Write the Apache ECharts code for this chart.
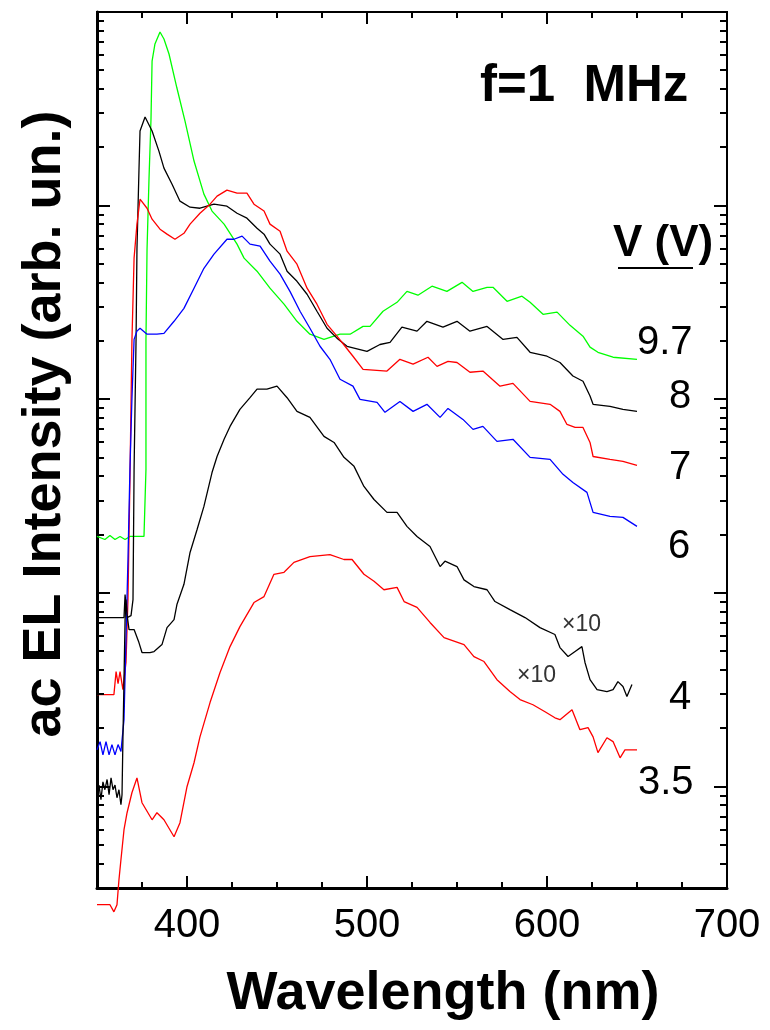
<!DOCTYPE html>
<html><head><meta charset="utf-8">
<script src="https://cdn.jsdelivr.net/npm/echarts@6/dist/echarts.min.js"></script>
<style>html,body{margin:0;padding:0;background:#fff}#c{width:770px;height:1030px}</style>
</head><body><div id="c"></div>
<script>
// ---- data: [wavelength (nm), ac EL intensity (arb. un.)] ----
const v97 = [[350,19.6],[354.4,18.9],[357.2,19.8],[360,18.9],[362.8,19.6],[365.6,18.9],[368.3,19.6],[374.4,19.6],[376.1,19.6],[377.2,43.5],[377.2,204],[377.8,596],[378.9,1387],[380,2800],[380.6,5580],[382.2,6840],[385,7880],[387.2,7250],[390,6070],[394.4,4050],[398.9,2730],[403.9,1700],[409.4,1147],[413.9,938],[420.6,803],[427.8,633],[431.7,536],[438.9,459],[446.1,375],[453.9,310],[461.1,253],[468.3,217],[476.1,204],[485,217],[490.6,217],[497.8,238],[501.7,238],[508.9,285],[516.7,317],[522.2,361],[528.3,345],[536.1,384],[544.4,361],[552.8,402],[558.9,361],[566.7,379],[570,379],[577.8,321],[586.1,341],[590.6,317],[597.8,275],[605.6,282],[612.8,241],[620,212],[623.9,186],[628.3,175],[636.7,165],[650,161]];
const v8 = [[350,7.47],[357.2,7.47],[365,7.47],[365.6,9.82],[366.7,7.47],[368.9,7.65],[370,9.25],[370.6,43.5],[371.7,204],[372.2,596],[373.3,1507],[373.9,2430],[376.7,2870],[380.6,2430],[384.4,1913],[387.2,1563],[391.7,1291],[396.1,1055],[401.7,982],[407.2,970],[415,1018],[422.2,994],[427.8,914],[433.3,862],[438.9,765],[442.8,713],[446.1,633],[451.7,562],[455.6,459],[461.1,407],[466.7,349],[472.2,285],[477.8,233],[483.3,207],[488.9,188],[500,177],[507.2,192],[512.8,197],[519.4,236],[527.8,225],[533.3,253],[542.2,236],[550,253],[557.2,225],[566.7,238],[575.6,204],[583.3,209],[590.6,175],[600,167],[607.2,155],[614.4,132],[620,124],[623.9,104],[625.6,94.3],[635,92.1],[642.2,88.7],[650,86.7]];
const v7 = [[350,2.99],[359.4,2.99],[360.6,3.93],[361.7,3.41],[362.8,3.93],[364.4,3.17],[365,3.57],[366.1,4.38],[367.2,9.25],[368.3,38.6],[369.4,199],[370.6,536],[372.2,803],[373.9,1080],[377.8,970],[380.6,852],[385,756],[388.9,713],[393.3,671],[398.3,720],[401.7,803],[407.2,914],[412.8,1018],[416.7,1120],[422.2,1203],[427.8,1160],[433.3,1160],[437.2,1018],[442.8,938],[446.1,803],[451.7,738],[455.6,582],[461.1,499],[466.7,375],[472.2,310],[477.8,244],[483.3,212],[487.8,188],[492.2,167],[497.8,143],[511.1,140],[518.3,161],[525.6,152],[533.9,165],[538.9,148],[545,157],[550,155],[557.2,138],[564.4,140],[573.9,117],[581.1,121],[590.6,97.6],[601.7,94.3],[607.2,86.7],[611.1,74.2],[615.6,71.6],[620,71.6],[623.9,59.9],[625.6,50.7],[635,49.0],[642.2,47.8],[650,45.6]];
const v6 = [[350,1.55],[351.7,1.71],[353.3,1.46],[355,1.71],[356.7,1.46],[358.3,1.65],[360,1.46],[361.7,1.65],[363.3,1.52],[363.9,1.55],[365,2.22],[366.1,5.75],[367.2,14.9],[368.3,43.5],[369.4,100],[370.6,204],[372.2,225],[373.9,233],[377.8,217],[383.3,217],[387.2,219],[392.8,253],[398.3,295],[403.9,375],[409.4,475],[415,562],[422.2,671],[426.1,671],[430.6,696],[435,633],[440.6,618],[446.1,517],[451.7,443],[457.2,361],[462.8,285],[468.3,233],[473.9,188],[479.4,161],[485,127],[492.2,117],[496.1,100],[505.6,96.5],[510,85.7],[518.3,97.6],[525.6,86.7],[533.3,94.3],[540.6,80.7],[545,89.8],[553.3,78.8],[558.9,70.0],[564.4,72.5],[572.2,60.7],[581.1,62.2],[590.6,50.2],[601.7,49.0],[608.9,41.0],[614.4,37.2],[622.2,33.1],[625.6,26.1],[635,24.9],[642.2,24.6],[650,22.1]];
const v4x10 = [[350,0.909],[351.1,1.02],[352.2,0.857],[353.3,1.06],[354.4,0.965],[355.6,1.09],[356.7,0.909],[357.8,1.11],[358.9,0.965],[360,1.02],[361.1,0.877],[362.2,0.965],[363.3,0.807],[363.9,0.909],[364.4,1.75],[365,3.57],[365.6,7.29],[366.1,9.25],[366.7,7.74],[367.8,6.48],[370.6,6.48],[373.3,5.55],[375,4.93],[379.4,4.93],[381.7,4.99],[386.1,5.42],[387.2,5.55],[388.9,6.63],[392.8,7.29],[394.4,8.72],[398.3,11.1],[401.7,16.2],[405.6,21.3],[409.4,28.0],[413.9,41.9],[416.7,50.7],[420.6,62.2],[423.9,72.5],[429.4,88.7],[435,102],[438.9,113],[444.4,113],[450,117],[455.6,102],[461.1,86.7],[468.3,80.7],[476.1,64.4],[481.7,59.9],[487.2,50.2],[492.8,45.1],[498.3,35.5],[503.9,30.4],[511.1,26.1],[516.7,26.1],[522.2,22.1],[527.8,19.6],[535,17.4],[540.6,13.7],[543.3,14.6],[550,13.7],[553.9,11.7],[559.4,10.8],[566.7,10.4],[571.1,9.04],[579.4,8.21],[587.8,7.47],[596.1,6.63],[604.4,6.11],[607.2,5.23],[611.7,4.70],[615.6,4.99],[619.4,5.29],[621.1,4.38],[623.9,3.57],[627.8,3.17],[633.3,3.10],[636.7,3.17],[639.4,3.49],[642.2,3.29],[644.4,2.92],[647.2,3.37]];
const v35x10 = [[350,0.246],[354.4,0.246],[357.2,0.246],[359.4,0.226],[361.1,0.246],[362.2,0.331],[363.3,0.42],[365,0.6],[366.7,0.734],[369.4,0.931],[372.2,1.11],[375,0.827],[380.6,0.675],[383.3,0.734],[387.2,0.675],[392.8,0.552],[396.1,0.652],[400,1.0],[403.9,1.33],[407.2,1.81],[412.8,2.72],[418.3,3.88],[423.9,5.29],[429.4,6.71],[437.2,8.93],[442.8,9.59],[448.3,12.5],[453.9,12.8],[459.4,14.4],[468.3,15.4],[479.4,15.8],[487.2,14.9],[491.7,14.9],[498.3,12.5],[503.9,11.5],[509.4,10.4],[516.7,10.7],[520.6,9.04],[527.8,8.43],[535,7.05],[542.8,5.89],[553.9,5.42],[559.4,4.70],[565,4.43],[572.2,3.57],[579.4,3.10],[585,2.82],[592.2,2.65],[598.9,2.44],[604.4,2.27],[607.2,2.22],[613.9,2.50],[618.3,1.97],[622.8,2.02],[625.6,1.81],[628.3,1.50],[633.3,1.79],[636.7,1.71],[640.6,1.41],[643.3,1.55],[650,1.55]];

// ---- ticks and labels ----
const xTickLabels = [400, 500, 600, 700];
const xMajorTicks = [400, 500, 600, 700];
const xMinorTicks = [375, 425, 450, 475, 525, 550, 575, 625, 650, 675];
const yMajorTicks = [1, 10, 100, 1000, 10000];
const yMinorTicks = [0.4,0.5,0.6,0.7,0.8,0.9, 2,3,4,5,6,7,8,9, 20,30,40,50,60,70,80,90, 200,300,400,500,600,700,800,900, 2000,3000,4000,5000,6000,7000,8000,9000];
const voltageLabels = ['9.7', '8', '7', '6', '4', '3.5'];

const FONT = '"Liberation Sans", Arial, Helvetica, sans-serif';
const chart = echarts.init(document.getElementById('c'), null, {renderer: 'canvas'});

const tickData = []
  .concat(xMajorTicks.map(v => [v, 1, 0]))
  .concat(xMinorTicks.map(v => [v, 1, 1]))
  .concat(yMajorTicks.map(v => [350, v, 2]))
  .concat(yMinorTicks.map(v => [350, v, 3]));

function renderTick(params, api) {
  const cs = params.coordSys;
  const kind = api.value(2);
  const p = api.coord([api.value(0), api.value(1)]);
  const st = {stroke: '#000', lineWidth: 2};
  if (kind < 2) {
    const len = kind === 0 ? 12 : 6;
    const x = Math.round(p[0]);
    const b = cs.y + cs.height, t = cs.y;
    return {type: 'group', children: [
      {type: 'line', shape: {x1: x, y1: b, x2: x, y2: b - len}, style: st},
      {type: 'line', shape: {x1: x, y1: t, x2: x, y2: t + len}, style: st}
    ]};
  }
  const len = kind === 2 ? 13 : 7;
  const y = Math.round(p[1]);
  const l = cs.x, r = cs.x + cs.width;
  return {type: 'group', children: [
    {type: 'line', shape: {x1: l, y1: y, x2: l + len, y2: y}, style: st},
    {type: 'line', shape: {x1: r, y1: y, x2: r - len, y2: y}, style: st}
  ]};
}

function line(name, data, color, clip) {
  return {name, type: 'line', data, showSymbol: false, symbol: 'none', clip: clip !== false,
    lineStyle: {color, width: 1.3}, itemStyle: {color}, z: 3, silent: true};
}

const txt = (text, x, y, size, opts) => Object.assign({
  type: 'text', x, y, silent: true,
  style: Object.assign({text, fontFamily: FONT, fontSize: size, fill: '#000', verticalAlign: 'middle', align: 'left'}, (opts && opts.style) || {})
}, (opts && opts.el) || {});

chart.setOption({
  animation: false,
  backgroundColor: '#fff',
  grid: {left: 97, right: 43, top: 12, bottom: 142, show: true, borderColor: '#000', borderWidth: 2, containLabel: false},
  xAxis: {
    type: 'value', min: 350, max: 700, interval: 50,
    axisLine: {lineStyle: {color: '#000', width: 3}},
    axisTick: {show: false}, splitLine: {show: false},
    axisLabel: {fontFamily: FONT, fontSize: 40, color: '#000', margin: 18,
      formatter: v => (xTickLabels.indexOf(v) >= 0 ? String(v) : '')}
  },
  yAxis: {
    type: 'log', logBase: 10, min: 0.3, max: 10000,
    axisLine: {lineStyle: {color: '#000', width: 3}},
    axisTick: {show: false}, splitLine: {show: false}, axisLabel: {show: false}
  },
  series: [
    line('9.7 V', v97, '#00ff00'),
    line('8 V', v8, '#000000'),
    line('7 V', v7, '#ff0000'),
    line('6 V', v6, '#0000ff'),
    line('4 V x10', v4x10, '#000000'),
    line('3.5 V x10', v35x10, '#ff0000', false),
    {type: 'custom', name: 'ticks', data: tickData, renderItem: renderTick, clip: false, silent: true, z: 5}
  ],
  graphic: [
    txt('ac EL Intensity (arb. un.)', 45, 424, 54, {style: {fontWeight: 'bold', align: 'center'}, el: {rotation: Math.PI / 2}}),
    txt('Wavelength (nm)', 443, 994, 54, {style: {fontWeight: 'bold', align: 'center'}}),
    txt('f=1  MHz', 480, 87, 51, {style: {fontWeight: 'bold'}}),
    txt('V (V)', 613, 244, 44, {style: {fontWeight: 'bold'}}),
    {type: 'line', silent: true, shape: {x1: 618, y1: 268, x2: 693, y2: 268}, style: {stroke: '#000', lineWidth: 2}},
    txt(voltageLabels[0], 637, 343, 40),
    txt(voltageLabels[1], 680, 397, 40, {style: {align: 'center'}}),
    txt(voltageLabels[2], 680, 468, 40, {style: {align: 'center'}}),
    txt(voltageLabels[3], 679, 547, 40, {style: {align: 'center'}}),
    txt(voltageLabels[4], 680, 698, 40, {style: {align: 'center'}}),
    txt(voltageLabels[5], 638, 783, 40),
    txt('×10', 562, 625, 23, {style: {fill: '#333'}}),
    txt('×10', 517, 676, 23, {style: {fill: '#333'}})
  ]
});
</script></body></html>
